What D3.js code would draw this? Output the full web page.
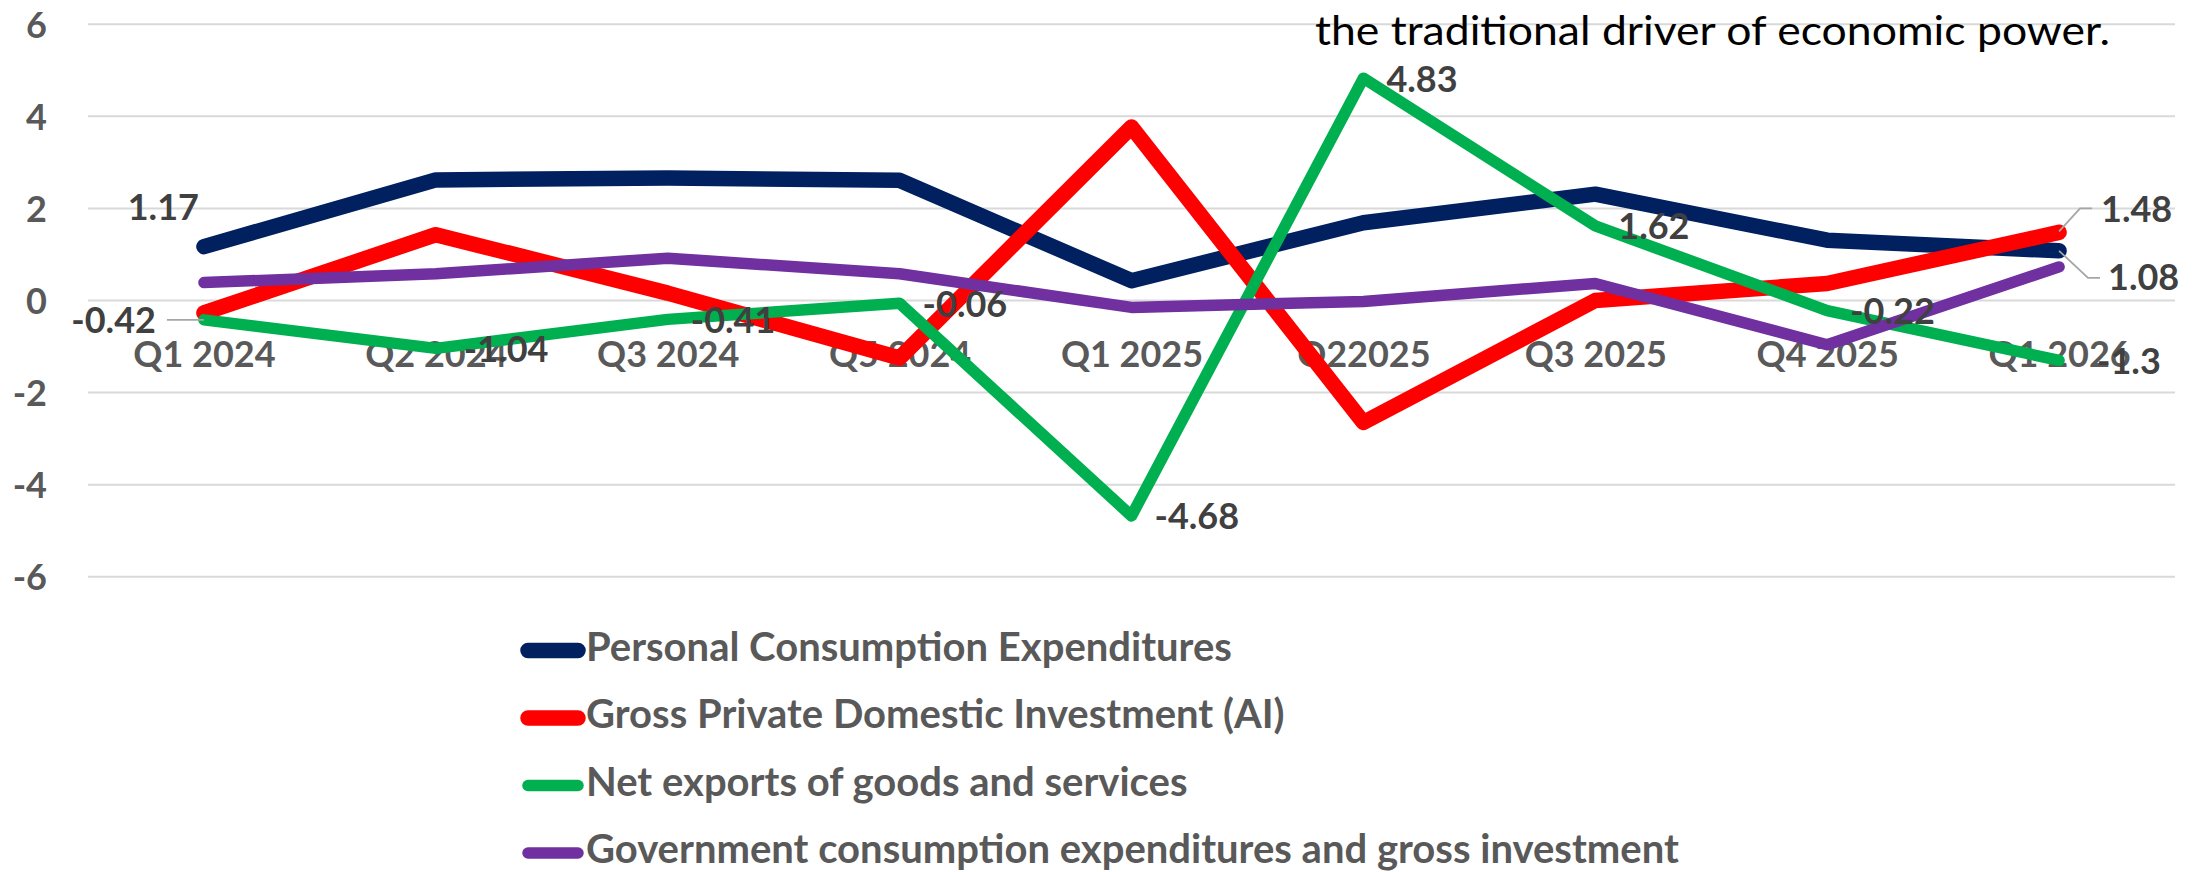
<!DOCTYPE html>
<html>
<head>
<meta charset="utf-8">
<script src="https://cdn.jsdelivr.net/npm/d3@7"></script>
<style>
  html, body { margin: 0; padding: 0; background: #ffffff; }
  svg { display: block; }
  text { font-family: Lato, "Open Sans", sans-serif; }
</style>
</head>
<body>
<svg id="chart" width="2209" height="872"></svg>
<script>
// ---------- data ----------
const categories = ["Q1 2024", "Q2 2024", "Q3 2024", "Q5 2024", "Q1 2025", "Q22025", "Q3 2025", "Q4 2025", "Q1 2026"];
const yTicks = [6, 4, 2, 0, -2, -4, -6];

const seriesNames = [
  "Personal Consumption Expenditures",
  "Gross Private Domestic Investment (AI)",
  "Net exports of goods and services",
  "Government consumption expenditures and gross investment"
];
const personalConsumption = [1.17, 2.62, 2.66, 2.61, 0.43, 1.69, 2.31, 1.31, 1.08];
const grossPrivateInvestment = [-0.27, 1.43, 0.16, -1.25, 3.77, -2.65, 0.0, 0.37, 1.48];
const netExports = [-0.42, -1.04, -0.41, -0.06, -4.68, 4.83, 1.62, -0.22, -1.3];
const governmentSpending = [0.39, 0.58, 0.92, 0.58, -0.15, -0.02, 0.37, -0.96, 0.73];

const titleFragment = "the traditional driver of economic power.";

// ---------- layout / style ----------
const W = 2209, H = 872;
const colors = ["#002060", "#FF0000", "#00B050", "#7030A0"];
const widths = [15.5, 15.5, 11.5, 11.5];
const seriesValues = [personalConsumption, grossPrivateInvestment, netExports, governmentSpending];

const svg = d3.select("#chart");
svg.append("rect").attr("width", W).attr("height", H).attr("fill", "#ffffff");

const x = d3.scalePoint().domain(categories).range([88, 2175]).padding(0.5);
const y = d3.scaleLinear().domain([-6, 6]).range([576.7, 24.3]);

// gridlines
svg.append("g").selectAll("line").data(yTicks).join("line")
  .attr("x1", 88).attr("x2", 2175)
  .attr("y1", d => y(d)).attr("y2", d => y(d))
  .attr("stroke", "#d9d9d9").attr("stroke-width", 2);

// y axis labels
const yAxis = d3.axisLeft(y).tickValues(yTicks).tickSize(0).tickPadding(0).tickFormat(d => String(d));
const gy = svg.append("g").attr("transform", "translate(47,0)").call(yAxis);
gy.select(".domain").remove();
gy.selectAll("text")
  .attr("font-family", "Lato").attr("font-weight", 700).attr("font-size", 36)
  .attr("fill", "#595959").attr("dy", "0.36em");

// x axis labels
const xAxis = d3.axisBottom(x).tickSize(0).tickPadding(0);
const gx = svg.append("g").attr("transform", "translate(0,367)").call(xAxis);
gx.select(".domain").remove();
gx.selectAll("text")
  .attr("font-family", "Lato").attr("font-weight", 700).attr("font-size", 36)
  .attr("fill", "#595959").attr("dy", 0).attr("y", 0);

// lines
const line = d3.line().x((d, i) => x(categories[i])).y(d => y(d));
svg.append("g").selectAll("path").data(seriesValues).join("path")
  .attr("d", d => line(d))
  .attr("fill", "none")
  .attr("stroke", (d, i) => colors[i])
  .attr("stroke-width", (d, i) => widths[i])
  .attr("stroke-linecap", "round")
  .attr("stroke-linejoin", "round");

// data labels
const lbl = svg.append("g")
  .attr("font-family", "Lato").attr("font-weight", 700).attr("font-size", 36).attr("fill", "#404040");
const leader = svg.append("g").attr("stroke", "#a6a6a6").attr("stroke-width", 1.8).attr("fill", "none");

function px(i) { return x(categories[i]); }

// Net exports: all points labelled
netExports.forEach((v, i) => {
  const cx = px(i), cy = y(v);
  if (i === 0) {
    leader.append("path").attr("d", d3.line()([[cx - 37, cy], [cx, cy]]));
    lbl.append("text").attr("x", cx - 48).attr("y", cy + 13).attr("text-anchor", "end").text(String(v));
  } else {
    const dx = i === 8 ? 38 : (i === 1 ? 28 : 23);
    lbl.append("text").attr("x", cx + dx).attr("y", cy + 13.5).text(String(v));
  }
});

// Personal consumption: first and last
{
  const v0 = personalConsumption[0];
  lbl.append("text").attr("x", px(0) - 5).attr("y", y(v0) - 27).attr("text-anchor", "end").text(String(v0));
  const v8 = personalConsumption[8], cx = px(8), cy = y(v8);
  leader.append("path").attr("d", d3.line()([[cx, cy], [cx + 29, cy + 27], [cx + 41, cy + 27]]));
  lbl.append("text").attr("x", cx + 49).attr("y", cy + 39).text(String(v8));
}
// Gross private investment: last
{
  const v8 = grossPrivateInvestment[8], cx = px(8), cy = y(v8);
  leader.append("path").attr("d", d3.line()([[cx, cy - 1], [cx + 21, cy - 24], [cx + 33, cy - 24]]));
  lbl.append("text").attr("x", cx + 42).attr("y", cy - 10).text(String(v8));
}

// title fragment
svg.append("text").attr("x", 1315).attr("y", 45)
  .attr("font-family", "Lato").attr("font-weight", 400).attr("font-size", 41)
  .attr("textLength", 795).attr("lengthAdjust", "spacingAndGlyphs")
  .attr("fill", "#000000").text(titleFragment);

// legend
const legend = svg.append("g");
const rowY = [650.5, 718, 785.5, 853];
const items = legend.selectAll("g").data(seriesNames).join("g")
  .attr("transform", (d, i) => `translate(0,${rowY[i]})`);
items.append("line").attr("x1", 528).attr("x2", 578).attr("y1", 0).attr("y2", 0)
  .attr("stroke", (d, i) => colors[i]).attr("stroke-width", (d, i) => widths[i])
  .attr("stroke-linecap", "round");
items.append("text").attr("x", 586).attr("y", 10)
  .attr("font-family", "Lato").attr("font-weight", 700).attr("font-size", 40)
  .attr("fill", "#595959").text(d => d);
</script>
</body>
</html>
